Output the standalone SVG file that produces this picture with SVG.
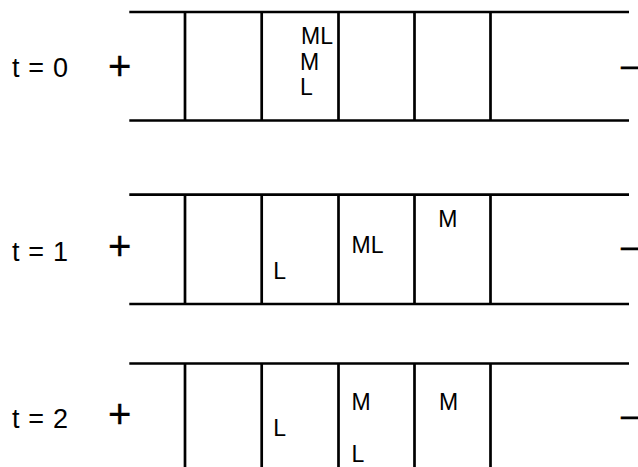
<svg xmlns="http://www.w3.org/2000/svg" width="638" height="467" viewBox="0 0 638 467">
<style>
.ln{stroke:#000;stroke-width:2.7;fill:none}
.t{font-family:"Liberation Sans",Arial,sans-serif;font-size:27px;fill:#000}
.pm{font-family:"Liberation Sans",Arial,sans-serif;font-size:40px;fill:#000;stroke:#000;stroke-width:0.3}
.mn{font-family:"Liberation Sans",Arial,sans-serif;font-size:32px;fill:#000;stroke:#000;stroke-width:0.6}
.lb{font-family:"Liberation Sans",Arial,sans-serif;font-size:23px;fill:#000}
</style>
<rect width="638" height="467" fill="#fff"/>
<g id="row0">
<text class="t" x="12" y="76.7" textLength="56" lengthAdjust="spacing">t = 0</text>
<text class="pm" x="108" y="79.5">+</text>
<text class="mn" x="621" y="75.8">–</text>
<path class="ln" d="M129.3 12H629M129.3 120.5H629M185 12V120.5M261.7 12V120.5M338.5 12V120.5M414.5 12V120.5M490.5 12V120.5"/>
<text class="lb" x="301" y="44.3">ML</text>
<text class="lb" x="300" y="70">M</text>
<text class="lb" x="300" y="95">L</text>
</g>
<g id="row1">
<text class="t" x="12" y="260.7" textLength="56" lengthAdjust="spacing">t = 1</text>
<text class="pm" x="108" y="260">+</text>
<text class="mn" x="621" y="257.1">–</text>
<path class="ln" d="M129.3 194.7H629M129.3 304H629M185 194.7V304M261.7 194.7V304M338.5 194.7V304M414.5 194.7V304M490.5 194.7V304"/>
<text class="lb" x="273.3" y="279">L</text>
<text class="lb" x="351.6" y="252.7">ML</text>
<text class="lb" x="438.3" y="227.3">M</text>
</g>
<g id="row2">
<text class="t" x="12" y="428.3" textLength="56" lengthAdjust="spacing">t = 2</text>
<text class="pm" x="108" y="428.2">+</text>
<text class="mn" x="621" y="425.5">–</text>
<path class="ln" d="M129.3 363.5H629M185 363.5V467M261.7 363.5V467M338.5 363.5V467M414.5 363.5V467M490.5 363.5V467"/>
<text class="lb" x="273.3" y="436">L</text>
<text class="lb" x="351.6" y="410">M</text>
<text class="lb" x="351.6" y="462">L</text>
<text class="lb" x="439" y="410">M</text>
</g>
</svg>
